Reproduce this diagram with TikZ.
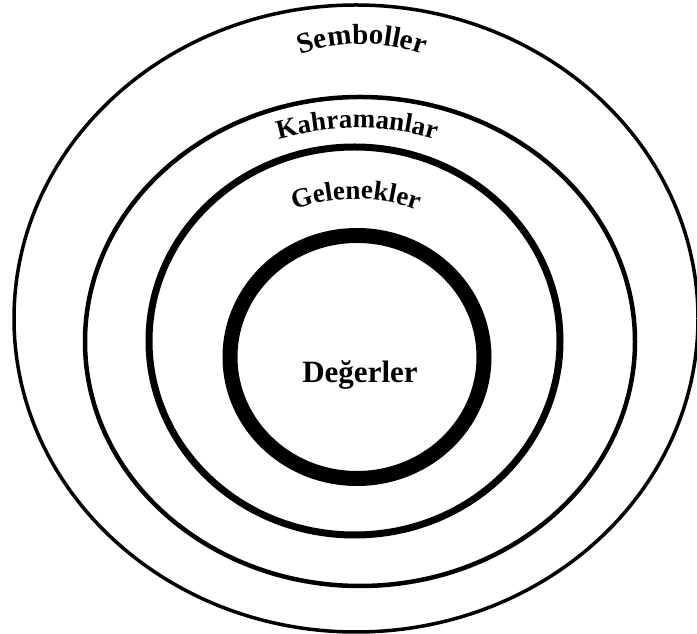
\documentclass[tikz,border=0pt]{standalone}
\usepackage{fontspec}
\setmainfont{Liberation Serif}
\usetikzlibrary{decorations.text}
\tikzset{
  ring/.style={draw=black, line width=#1},
  arctext/.style={decorate, decoration={text along path, text align=center, text format delimiters={|}{|}, text={#1}}},
}
\begin{document}
\begin{tikzpicture}[x=1pt,y=1pt]
\useasboundingbox (0,0) rectangle (697,634);
\begin{scope}
\clip (0,0) rectangle (697,634);
\draw[ring=3.5] (356,315.5) ellipse [x radius=342, y radius=313.5];
\draw[ring=4.5] (360,292.5) ellipse [x radius=275, y radius=244.5];
\draw[ring=7] (354.5,293) ellipse [x radius=205.5, y radius=194];
\draw[ring=15] (357,277) ellipse [x radius=127, y radius=121.5];
\end{scope}
\node[font=\fontsize{31}{31}\selectfont\bfseries, anchor=base] (val) at (360,251) {Değerler};
\path[arctext={|\fontsize{29}{29}\selectfont\bfseries|Semboller}] (362,410) ++(120:180) arc[start angle=120, end angle=60, radius=180];
\path[arctext={|\fontsize{27}{27}\selectfont\bfseries|Kahramanlar}] (357,226) ++(112:280) arc[start angle=112, end angle=68, radius=280];
\path[arctext={|\fontsize{27}{27}\selectfont\bfseries|Gelenekler}] (356,255) ++(120:180) arc[start angle=120, end angle=60, radius=180];
\end{tikzpicture}
\end{document}
